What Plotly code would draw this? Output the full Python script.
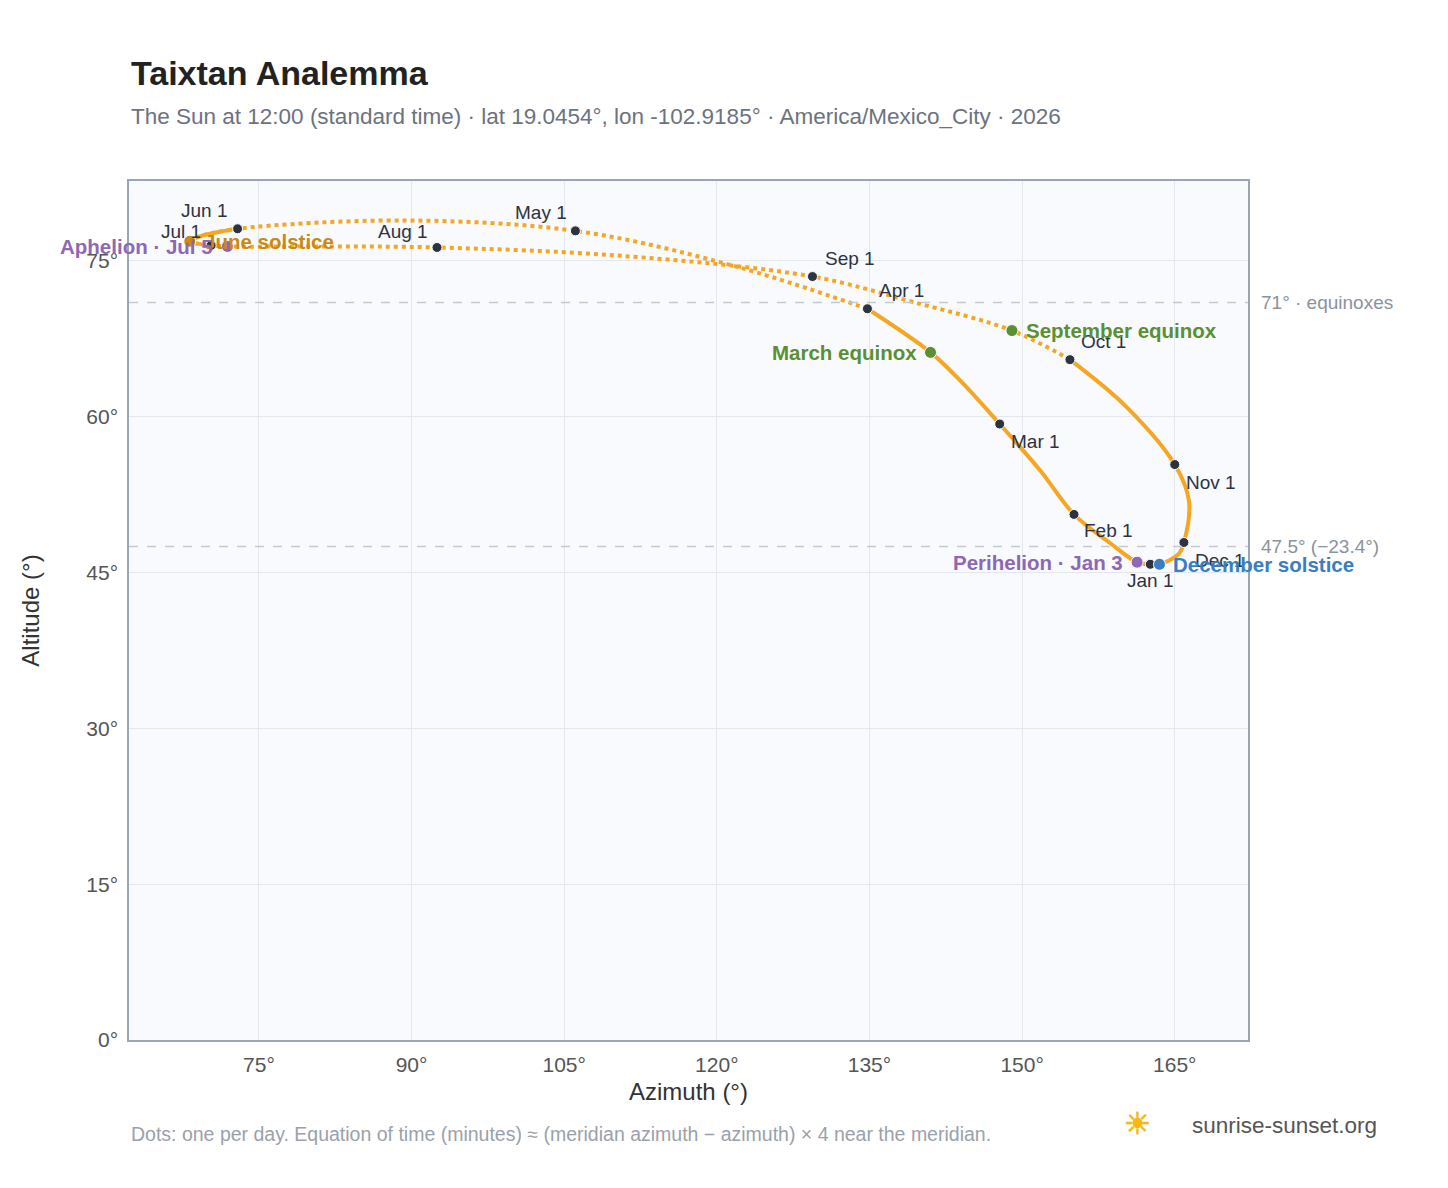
import plotly.graph_objects as go

# path samples (semi-monthly), Jan 1 -> Dec 31
path_dates = ["Jan 1","Jan 3","Jan 15","Feb 1","Feb 15","Mar 1","Mar 15","Mar 20","Apr 1","Apr 15","May 1","May 15","Jun 1","Jun 15","Jun 21","Jul 1","Jul 5","Jul 15","Aug 1","Aug 15","Sep 1","Sep 15","Sep 22","Oct 1","Oct 15","Nov 1","Nov 15","Dec 1","Dec 15","Dec 21","Dec 31"]
path_az = [162.6,161.3,158.7,155.1,151.8,147.8,144.0,141.0,134.8,121.4,106.1,89.0,72.9,69.3,68.2,70.3,71.9,81.1,92.5,110.6,129.4,139.1,149.0,154.7,160.2,165.0,166.4,165.9,165.4,163.5,162.7]
path_alt = [45.8,46.0,47.8,50.6,54.8,59.3,63.4,66.2,70.4,74.6,77.9,78.9,78.1,77.4,76.9,76.5,76.4,76.4,76.3,75.5,73.5,71.1,68.3,65.5,61.0,55.4,51.9,47.9,46.8,45.8,45.8]

month_labels = ["Jan 1","Feb 1","Mar 1","Apr 1","May 1","Jun 1","Jul 1","Aug 1","Sep 1","Oct 1","Nov 1","Dec 1"]
month_az = [162.6,155.1,147.8,134.8,106.1,72.9,70.3,92.5,129.4,154.7,165.0,165.9]
month_alt = [45.8,50.6,59.3,70.4,77.9,78.1,76.5,76.3,73.5,65.5,55.4,47.9]

events = ["March equinox","June solstice","September equinox","December solstice","Perihelion · Jan 3","Aphelion · Jul 5"]
event_az = [141.0,68.2,149.0,163.5,161.3,71.9]
event_alt = [66.2,76.9,68.3,45.8,46.0,76.4]
event_col = ["#5a8f32","#c98a12","#5a8f32","#3a7dc2","#8e67b5","#8e67b5"]

x_ticks = [75,90,105,120,135,150,165]
y_ticks = [0,15,30,45,60,75]

ORANGE = "#f5a623"
fig = go.Figure()
solid_idx = list(range(23, len(path_az))) + list(range(0, 9))
dot_idx = list(range(8, 24))
fig.add_trace(go.Scatter(x=[path_az[i] for i in solid_idx], y=[path_alt[i] for i in solid_idx], mode="lines",
                         line=dict(color=ORANGE, width=4, shape="spline"), hoverinfo="skip"))
fig.add_trace(go.Scatter(x=[path_az[i] for i in dot_idx], y=[path_alt[i] for i in dot_idx], mode="lines",
                         line=dict(color=ORANGE, width=4, shape="spline", dash="dot"), hoverinfo="skip"))
fig.add_trace(go.Scatter(x=path_az[12:17], y=path_alt[12:17], mode="lines",
                         line=dict(color=ORANGE, width=4, shape="spline"), hoverinfo="skip"))

offsets = {"Jan 1":(0,16),"Feb 1":(34,16),"Mar 1":(36,17),"Apr 1":(34,-18),"May 1":(-34,-18),"Jun 1":(-34,-18),
           "Jul 1":(-30,-14),"Aug 1":(-34,-16),"Sep 1":(38,-18),"Oct 1":(34,-18),"Nov 1":(36,18),"Dec 1":(36,18)}
fig.add_trace(go.Scatter(x=month_az, y=month_alt, mode="markers",
                         marker=dict(color="#2d3340", size=10, line=dict(color="white", width=1)), hoverinfo="skip"))
for l, a, h in zip(month_labels, month_az, month_alt):
    dx, dy = offsets[l]
    fig.add_annotation(x=a, y=h, text=l, showarrow=False, xshift=dx, yshift=-dy, font=dict(size=19, color="#2d3340"))

fig.add_trace(go.Scatter(x=event_az, y=event_alt, mode="markers",
                         marker=dict(color=event_col, size=12, line=dict(color="white", width=1)), hoverinfo="skip"))
ev_pos = [("right",-12),("left",12),("left",12),("left",12),("right",-12),("right",-12)]
for e, a, h, c, (anc, sh) in zip(events, event_az, event_alt, event_col, ev_pos):
    fig.add_annotation(x=a, y=h, text=f"<b>{e}</b>", showarrow=False, xanchor=anc, xshift=sh,
                       font=dict(size=20.5, color=c))

for yv, lab in [(71, "71° · equinoxes"), (47.5, "47.5° (−23.4°)")]:
    fig.add_shape(type="line", xref="paper", x0=0, x1=1, y0=yv, y1=yv, line=dict(color="#c3c9d3", width=1.5, dash="dash"))
    fig.add_annotation(xref="paper", x=1.01, y=yv, text=lab, showarrow=False, xanchor="left",
                       font=dict(size=19, color="#8a929e"))

fig.add_annotation(xref="paper", yref="paper", x=0, y=1.126, xanchor="left", yanchor="middle", showarrow=False,
                   text="<b>Taixtan Analemma</b>", font=dict(size=34, color="#222"))
fig.add_annotation(xref="paper", yref="paper", x=0, y=1.075, xanchor="left", yanchor="middle", showarrow=False,
                   text="The Sun at 12:00 (standard time) · lat 19.0454°, lon -102.9185° · America/Mexico_City · 2026",
                   font=dict(size=22.5, color="#6b7280"))
fig.add_annotation(xref="paper", yref="paper", x=0, y=-0.109, xanchor="left", yanchor="middle", showarrow=False,
                   text="Dots: one per day. Equation of time (minutes) ≈ (meridian azimuth − azimuth) × 4 near the meridian.",
                   font=dict(size=19.5, color="#9aa1ab"))
fig.add_annotation(xref="paper", yref="paper", x=1.117, y=-0.1, xanchor="right", yanchor="middle", showarrow=False,
                   text="sunrise-sunset.org", font=dict(size=22.5, color="#555"))
fig.add_annotation(xref="paper", yref="paper", x=0.915, y=-0.097, xanchor="right", yanchor="middle", showarrow=False,
                   text="<b>☀</b>", font=dict(size=30, color="#f5b90f"))

fig.update_layout(
    width=1448, height=1188, showlegend=False,
    margin=dict(l=121, r=208, t=173, b=156),
    paper_bgcolor="white", plot_bgcolor="#f8fafd",
    font=dict(family="Liberation Sans, Arial, sans-serif", color="#555"),
    xaxis=dict(range=[62.23, 172.2], tickvals=x_ticks, ticktext=[f"{v}°" for v in x_ticks],
               gridcolor="#e3e7ee", zeroline=False, showline=True, linecolor="#9aa5b4", mirror=True, linewidth=1.5,
               tickfont=dict(size=21, color="#555"), ticks="outside", ticklen=5, tickcolor="rgba(0,0,0,0)",
               title=dict(text="Azimuth (°)", font=dict(size=24, color="#333"), standoff=8)),
    yaxis=dict(range=[0, 82.7], tickvals=y_ticks, ticktext=[f"{v}°" for v in y_ticks],
               gridcolor="#e3e7ee", zeroline=False, showline=True, linecolor="#9aa5b4", mirror=True, linewidth=1.5,
               tickfont=dict(size=21, color="#555"), ticks="outside", ticklen=5, tickcolor="rgba(0,0,0,0)",
               title=dict(text="Altitude (°)", font=dict(size=24, color="#333"), standoff=40)),
)
fig.write_html("out.html")
